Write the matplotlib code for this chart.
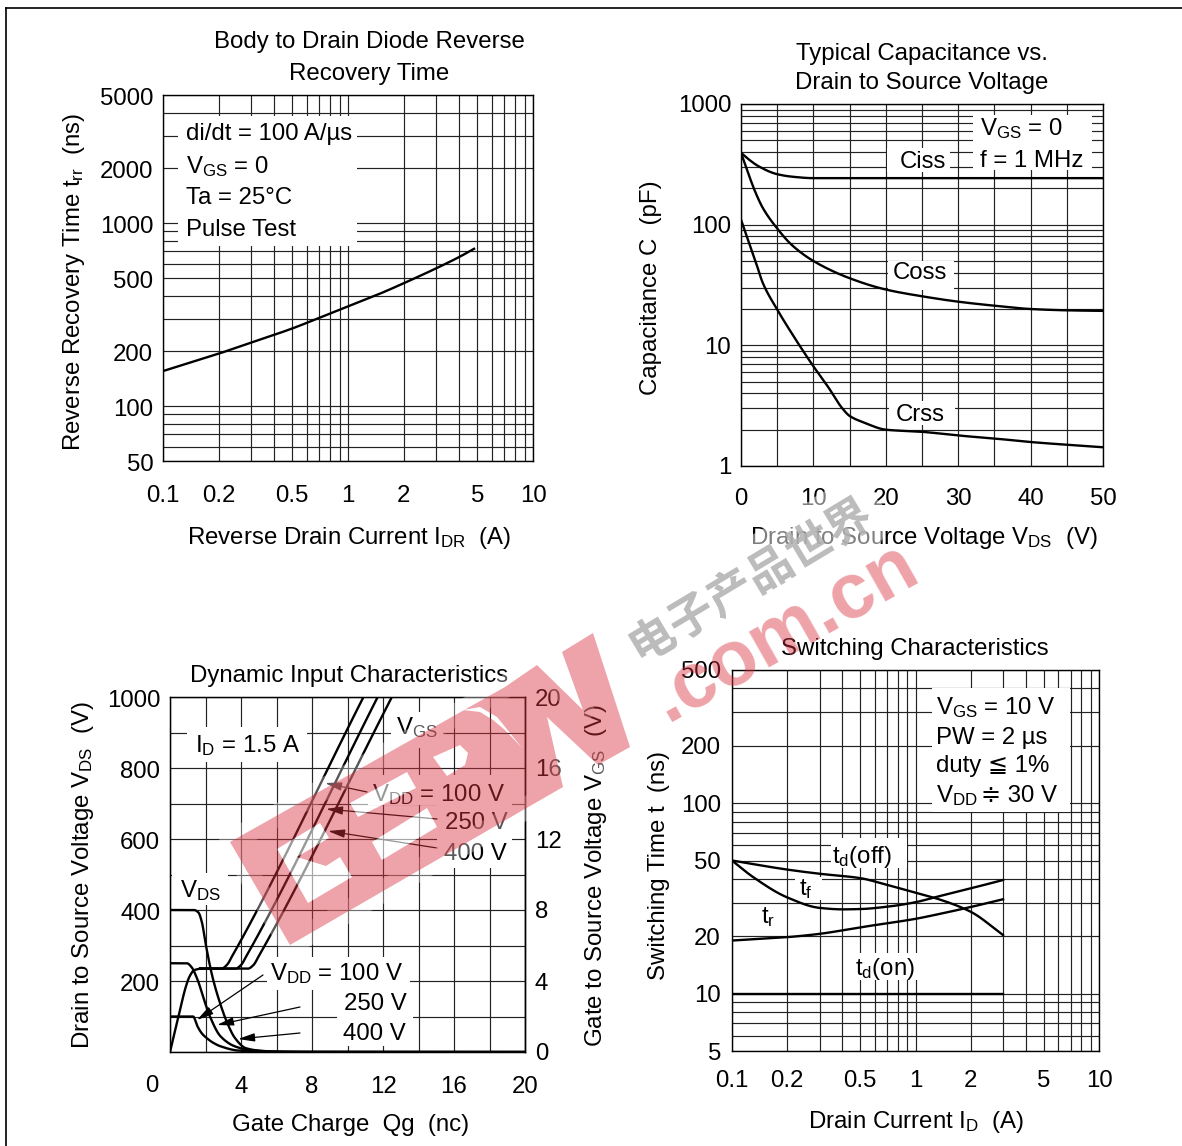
import matplotlib
matplotlib.use('Agg')
import matplotlib.pyplot as plt
import numpy as np
from matplotlib.lines import Line2D
from matplotlib.patches import PathPatch, Rectangle
from matplotlib.path import Path
from matplotlib.ticker import NullFormatter
from matplotlib.transforms import Affine2D
import matplotlib.patheffects as pe

plt.rcParams['font.family'] = ['Liberation Sans', 'DejaVu Sans']
plt.rcParams['mathtext.fontset'] = 'custom'
plt.rcParams['mathtext.rm'] = 'Liberation Sans'
plt.rcParams['mathtext.default'] = 'rm'
FS = 17.3
W, H = 1182, 1146

# reverse recovery
trr_x = [0.1, 0.2, 0.3, 0.5, 0.7, 1, 1.5, 2, 3, 4, 4.8]
trr_y = [155, 193, 222, 265, 303, 350, 412, 468, 565, 652, 722]

# capacitance
cap_ciss_x = [0, 1, 2.5, 5, 7, 10, 15, 50]
cap_ciss_y = [394, 350, 303, 262, 250, 243, 243, 243]
cap_coss_x = [0, 1, 2, 3, 5, 7, 10, 15, 20, 25, 30, 35, 40, 45, 50]
cap_coss_y = [394, 266, 185, 138, 93, 68, 50, 36, 29, 25.5, 23, 21.3, 20, 19.5, 19.3]
cap_crss_x = [0, 1, 2, 3, 5, 7, 10, 12, 14, 15, 17, 20, 25, 30, 35, 40, 45, 50]
cap_crss_y = [110, 74, 50, 33, 19.8, 12.6, 6.7, 4.55, 3, 2.6, 2.29, 2.0, 1.92, 1.79, 1.69, 1.58, 1.50, 1.43]

# dynamic input
vgs_rise_q = [0, 0.5, 0.9, 1.1, 1.35, 1.7]
vgs_rise_v = [0, 2.1, 3.7, 4.25, 4.6, 4.7]
vgs100_q = [2.9, 3.2, 3.5, 10.9]
vgs100_v = [4.7, 4.9, 5.4, 20]
vgs250_q = [3.7, 4.0, 4.3, 11.7]
vgs250_v = [4.7, 4.9, 5.4, 20]
vgs400_q = [4.4, 4.7, 5.0, 12.5]
vgs400_v = [4.7, 4.9, 5.4, 20]
vds400_q = [0, 1.35, 1.6, 1.8, 2.0, 2.4, 2.85, 3.2, 3.65, 4.26, 5, 6, 8, 20]
vds400_v = [400, 400, 393, 365, 307, 210, 133, 85, 40, 11, 4, 1, 0, 0]
vds250_q = [0, 0.95, 1.2, 1.55, 1.9, 2.25, 2.85, 3.65, 4.5, 6, 20]
vds250_v = [250, 250, 240, 204, 150, 100, 44, 16, 5, 1, 0]
vds100_q = [0, 1.3, 1.55, 1.8, 2.05, 2.4, 2.85, 3.85, 5, 7, 20]
vds100_v = [100, 100, 72, 52, 40, 27, 16, 4, 1.5, 0, 0]

# switching
sw_x = [0.1, 0.2, 0.3, 0.5, 0.7, 1, 1.3, 2, 3]
td_off = [50, 44.8, 42.6, 40.4, 37.2, 33.9, 31.6, 26.9, 20.3]
t_r = [19, 19.8, 20.6, 22.3, 23.4, 24.7, 26, 28.5, 31.3]
td_on = [10, 10, 10, 10, 10, 10, 10, 10, 10]
tf_x = [0.1, 0.13, 0.2, 0.3, 0.4, 0.5, 0.7, 1, 1.3, 2, 3]
t_f = [50, 41, 32, 28.2, 27.7, 27.8, 28.6, 30.2, 32.2, 35.7, 39.5]

fig = plt.figure(figsize=(W / 100, H / 100), dpi=100, facecolor='white')
PX = Affine2D().scale(1, -1).translate(0, H)


def make_axes(x0, y0, x1, y1):
    ax = fig.add_axes([x0 / W, 1 - y1 / H, (x1 - x0) / W, (y1 - y0) / H])
    for s in ax.spines.values():
        s.set_linewidth(1.0)
        s.set_zorder(2.5)
    ax.set_axisbelow(True)
    return ax


def style(ax, pad_x, pad_y):
    ax.grid(which='both', color='#222222', linewidth=0.85)
    ax.tick_params(which='both', length=0, labelsize=FS)
    ax.tick_params(axis='x', pad=pad_x)
    ax.tick_params(axis='y', pad=pad_y)
    ax.xaxis.set_minor_formatter(NullFormatter())
    ax.yaxis.set_minor_formatter(NullFormatter())


def log_minors(lo, hi):
    vals = []
    for d in range(-2, 5):
        for m in range(1, 10):
            v = m * 10.0 ** d
            if lo <= v <= hi:
                vals.append(v)
    return vals


def blank(ax, x0, y0, x1, y1):
    ax.add_patch(Rectangle((x0, y0), x1 - x0, y1 - y0, transform=PX, facecolor='white',
                           edgecolor='none', zorder=2, clip_on=False))


def txt(x, y, s, ha='left', **kw):
    return fig.text(x, y, s, transform=PX, ha=ha, va='baseline', fontsize=FS, color='black', **kw)


def vtxt(x, y, s):
    return fig.text(x, y, s, transform=PX, ha='center', va='center', rotation=90, fontsize=FS, color='black')


def arrow(x0, y0, x1, y1):
    ax3.annotate('', xy=(x1, y1), xytext=(x0, y0), xycoords=PX, textcoords=PX, zorder=6,
                 arrowprops=dict(arrowstyle='-|>,head_length=1.0,head_width=0.25', lw=0.9,
                                 color='black', shrinkA=0, shrinkB=0))


def curve(ax, x, y, logx=False, logy=False):
    # monotone cubic through the read points, so the pen curve stays round
    px = np.log10(x) if logx else np.array(x, dtype=float)
    py = np.log10(y) if logy else np.array(y, dtype=float)
    h = np.diff(px)
    d = np.diff(py) / h
    m = np.zeros(len(px))
    m[0], m[-1] = d[0], d[-1]
    for i in range(1, len(px) - 1):
        if d[i - 1] * d[i] > 0:
            w1, w2 = 2 * h[i] + h[i - 1], h[i] + 2 * h[i - 1]
            m[i] = (w1 + w2) / (w1 / d[i - 1] + w2 / d[i])
    fx, fy = [], []
    for i in range(len(h)):
        t = np.linspace(0, 1, 24)
        fx.append(px[i] + t * h[i])
        fy.append((2 * t**3 - 3 * t**2 + 1) * py[i] + (t**3 - 2 * t**2 + t) * h[i] * m[i]
                  + (-2 * t**3 + 3 * t**2) * py[i + 1] + (t**3 - t**2) * h[i] * m[i + 1])
    fx, fy = np.concatenate(fx), np.concatenate(fy)
    ax.plot(10**fx if logx else fx, 10**fy if logy else fy, color='black', lw=LW, zorder=3)


def nudge(ax, dy):
    # printed labels sit a little off the grid lines
    for lab in ax.get_yticklabels():
        lab.set_transform(lab.get_transform() + Affine2D().translate(0, -dy))


LW = 1.7

# top left
ax1 = make_axes(163, 95, 533, 461)
ax1.set_xscale('log')
ax1.set_yscale('log')
ax1.set_xlim(0.1, 10)
ax1.set_ylim(50, 5000)
ax1.set_xticks([0.1, 0.2, 0.5, 1, 2, 5, 10], ['0.1', '0.2', '0.5', '1', '2', '5', '10'])
ax1.set_xticks(log_minors(0.1, 10), minor=True)
ax1.set_yticks([50, 100, 200, 500, 1000, 2000, 5000], ['50', '100', '200', '500', '1000', '2000', '5000'])
ax1.set_yticks(log_minors(50, 5000), minor=True)
style(ax1, 17, 7)
nudge(ax1, 1.5)
blank(ax1, 178, 116, 357, 246)
curve(ax1, trr_x, trr_y, logx=True, logy=True)
txt(369, 48, 'Body to Drain Diode Reverse', ha='center')
txt(369, 80, 'Recovery Time', ha='center')
txt(186, 140, 'di/dt = 100 A/µs')
txt(186, 173, r'V$_{\mathrm{GS}}$ = 0')
txt(186, 204, 'Ta = 25°C')
txt(186, 236, 'Pulse Test')
txt(349, 544, r'Reverse Drain Current I$_{\mathrm{DR}}$  (A)', ha='center')
vtxt(74, 282, r'Reverse Recovery Time t$_{\mathrm{rr}}$  (ns)')

# top right
ax2 = make_axes(741, 104, 1103, 466)
ax2.set_yscale('log')
ax2.set_xlim(0, 50)
ax2.set_ylim(1, 1000)
ax2.set_xticks(np.arange(0, 51, 10))
ax2.set_xticks(np.arange(0, 51, 5), minor=True)
ax2.set_yticks([1, 10, 100, 1000], ['1', '10', '100', '1000'])
ax2.set_yticks(log_minors(1, 1000), minor=True)
style(ax2, 16, 7)
blank(ax2, 887, 148, 950, 172)
blank(ax2, 973, 115, 1092, 170)
blank(ax2, 888, 261, 954, 290)
blank(ax2, 889, 401, 955, 425)
curve(ax2, cap_ciss_x, cap_ciss_y, logy=True)
curve(ax2, cap_coss_x, cap_coss_y, logy=True)
curve(ax2, cap_crss_x, cap_crss_y, logy=True)
txt(922, 60, 'Typical Capacitance vs.', ha='center')
txt(922, 89, 'Drain to Source Voltage', ha='center')
txt(980, 135, r'V$_{\mathrm{GS}}$ = 0')
txt(980, 167, 'f = 1 MHz')
txt(900, 168, 'Ciss')
txt(893, 279, 'Coss')
txt(896, 421, 'Crss')
txt(924, 544, r'Drain to Source Voltage V$_{\mathrm{DS}}$  (V)', ha='center')
vtxt(651, 288, 'Capacitance C  (pF)')

# bottom left
ax3 = make_axes(170, 697, 525, 1052)
ax3.set_xlim(0, 20)
ax3.set_ylim(0, 1000)
ax3.set_xticks(np.arange(0, 21, 4), ['', '4', '8', '12', '16', '20'])
ax3.set_xticks(np.arange(0, 21, 2), minor=True)
ax3.set_yticks(np.arange(200, 1001, 200))
ax3.set_yticks(np.arange(0, 1001, 100), minor=True)
style(ax3, 17, 7)
nudge(ax3, 1.5)
ax3r = ax3.twinx()
ax3r.set_ylim(0, 20)
ax3r.set_yticks(np.arange(0, 21, 4))
ax3r.tick_params(length=0, labelsize=FS, pad=7)
ax3r.spines['right'].set_linewidth(1.0)
blank(ax3, 187, 727, 307, 762)
blank(ax3, 391, 712, 443, 748)
blank(ax3, 368, 775, 512, 805)
blank(ax3, 437, 805, 512, 868)
blank(ax3, 172, 873, 228, 905)
blank(ax3, 267, 957, 410, 990)
blank(ax3, 337, 990, 413, 1046)
curve(ax3, vds400_q, vds400_v)
curve(ax3, vds250_q, vds250_v)
curve(ax3, vds100_q, vds100_v)
curve(ax3r, vgs_rise_q, vgs_rise_v)
curve(ax3r, [1.7] + vgs100_q, [4.7] + vgs100_v)
curve(ax3r, [1.7] + vgs250_q, [4.7] + vgs250_v)
curve(ax3r, [1.7] + vgs400_q, [4.7] + vgs400_v)
arrow(367, 792, 325, 783)
arrow(437, 819, 326, 809)
arrow(437, 848, 328, 831)
arrow(263, 975, 197, 1020)
arrow(300, 1007, 217, 1025)
arrow(300, 1033, 238, 1039)
txt(349, 682, 'Dynamic Input Characteristics', ha='center')
txt(195, 752, r'I$_{\mathrm{D}}$ = 1.5 A')
txt(396, 734, r'V$_{\mathrm{GS}}$')
txt(372, 801, r'V$_{\mathrm{DD}}$ = 100 V')
txt(445, 829, '250 V')
txt(444, 860, '400 V')
txt(180, 897, r'V$_{\mathrm{DS}}$')
txt(270, 980, r'V$_{\mathrm{DD}}$ = 100 V')
txt(344, 1010, '250 V')
txt(343, 1040, '400 V')
txt(152, 1092, '0', ha='center')
txt(351, 1131, 'Gate Charge  Qg  (nc)', ha='center')
vtxt(83, 875, r'Drain to Source Voltage V$_{\mathrm{DS}}$  (V)')
vtxt(596, 875, r'Gate to Source Voltage V$_{\mathrm{GS}}$  (V)')

# bottom right
ax4 = make_axes(732, 670, 1099, 1051)
ax4.set_xscale('log')
ax4.set_yscale('log')
ax4.set_xlim(0.1, 10)
ax4.set_ylim(5, 500)
ax4.set_xticks([0.1, 0.2, 0.5, 1, 2, 5, 10], ['0.1', '0.2', '0.5', '1', '2', '5', '10'])
ax4.set_xticks(log_minors(0.1, 10), minor=True)
ax4.set_yticks([5, 10, 20, 50, 100, 200, 500], ['5', '10', '20', '50', '100', '200', '500'])
ax4.set_yticks(log_minors(5, 500), minor=True)
style(ax4, 14, 8)
blank(ax4, 932, 688, 1070, 812)
blank(ax4, 831, 838, 907, 868)
blank(ax4, 795, 877, 822, 900)
blank(ax4, 857, 953, 921, 980)
for series in (td_off, t_r, td_on):
    curve(ax4, sw_x, series, logx=True, logy=True)
curve(ax4, tf_x, t_f, logx=True, logy=True)
txt(915, 655, 'Switching Characteristics', ha='center')
txt(936, 714, r'V$_{\mathrm{GS}}$ = 10 V')
txt(936, 744, 'PW = 2 µs')
txt(936, 772, 'duty ≦ 1%')
txt(936, 802, r'V$_{\mathrm{DD}}$')
txt(981, 802, '≑ 30 V')
txt(832, 863, r't$_{\mathrm{d}}$(off)')
txt(799, 895, r't$_{\mathrm{f}}$')
txt(761, 923, r't$_{\mathrm{r}}$')
txt(855, 975, r't$_{\mathrm{d}}$(on)')
txt(916, 1128, r'Drain Current I$_{\mathrm{D}}$  (A)', ha='center')
vtxt(659, 866, 'Switching Time t  (ns)')

# page edge
fig.add_artist(Line2D([6, W], [8, 8], transform=PX, color='black', lw=1.2))
fig.add_artist(Line2D([6, 6], [8, H], transform=PX, color='black', lw=1.2))

# watermark
outer = [(230, 842), (505, 687), (537, 665), (583, 710), (562, 652), (593, 633), (630, 747), (598, 765),
         (547, 717), (563, 787), (530, 806), (290, 945)]
holes = [
    [(277, 849), (320, 823), (329, 838), (297, 857), (326, 866), (340, 857), (352, 877), (308, 903)],
    [(350, 803), (407, 772), (416, 788), (358, 817)],
    [(372, 842), (427, 808), (437, 827), (382, 860)],
    [(433, 757), (460, 745), (468, 753), (465, 765), (447, 776)],
    [(463, 710), (480, 707), (497, 717), (510, 733), (522, 748), (505, 730), (493, 720), (480, 712)],
]


def ring(pts, ccw):
    pts = np.array(pts, dtype=float)
    x, y = pts[:, 0], pts[:, 1]
    area = np.sum(x * np.roll(y, -1) - np.roll(x, -1) * y)
    if (area > 0) != ccw:
        pts = pts[::-1]
    return Path(np.vstack([pts, pts[:1]]), closed=True)


wm = Path.make_compound_path(ring(outer, True), *[ring(h, False) for h in holes])
fig.add_artist(PathPatch(ring(outer, True), transform=PX, facecolor='none', edgecolor='white', lw=16,
                         alpha=0.35, zorder=9, joinstyle='round'))
for h in holes[:3]:
    fig.add_artist(PathPatch(ring(h, True), transform=PX, facecolor='white', edgecolor='none', alpha=0.6, zorder=9))
fig.add_artist(PathPatch(wm, transform=PX, facecolor=(0.85, 0.2, 0.25), edgecolor='none', alpha=0.45, zorder=10))
fig.text(667, 722, '.com.cn', transform=PX, rotation=29.5, rotation_mode='anchor', ha='left', va='baseline',
         fontsize=56, fontweight='bold', family='Liberation Sans', color=(0.85, 0.2, 0.25), alpha=0.45, zorder=10)
wash = fig.text(640, 665, '电子产品世界', transform=PX, rotation=31, rotation_mode='anchor', ha='left', va='baseline',
                fontsize=33, fontweight='bold', family='Noto Sans CJK SC', color='#aaaaaa', alpha=0.7, zorder=10)
wash.set_path_effects([pe.Stroke(linewidth=24, foreground='white', alpha=0.5), pe.Normal()])

fig.savefig('out.png', dpi=100)
